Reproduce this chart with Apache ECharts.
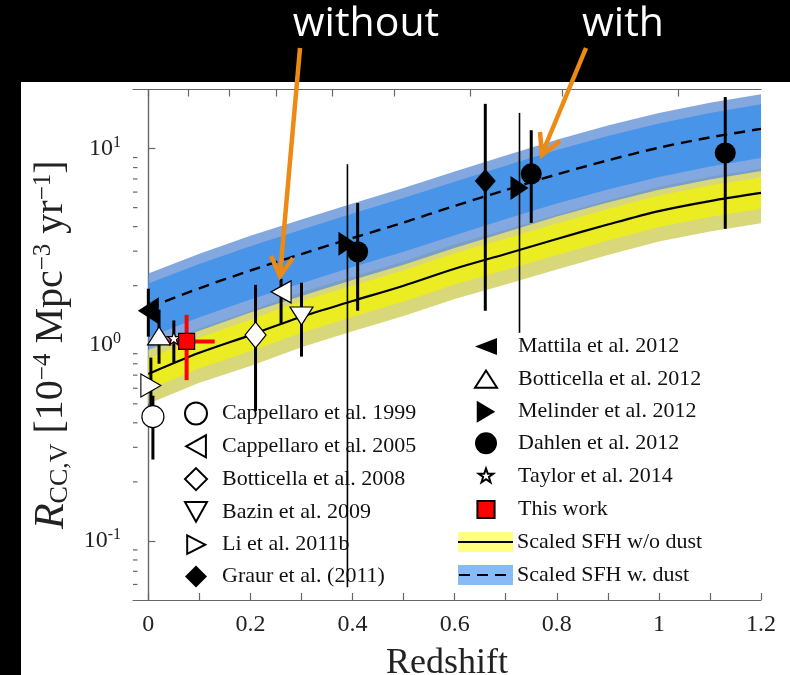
<!DOCTYPE html>
<html><head><meta charset="utf-8">
<script src="https://cdn.jsdelivr.net/npm/echarts@6/dist/echarts.min.js"></script>
<style>html,body{margin:0;padding:0;background:#000;}#c{width:790px;height:675px;}</style>
</head><body><div id="c"></div>
<script>
// ---- model curves (redshift grid) ----
const bandZ = [0, 0.1, 0.2, 0.3, 0.4, 0.5, 0.6, 0.7, 0.8, 0.9, 1.0, 1.1, 1.2];
const sfhNoDust     = [0.71, 0.91, 1.12, 1.39, 1.67, 2.00, 2.44, 2.90, 3.46, 4.10, 4.80, 5.40, 5.94];
const yellowOuterLo = [0.50, 0.64, 0.78, 0.97, 1.17, 1.40, 1.71, 2.03, 2.42, 2.87, 3.36, 3.78, 4.16];
const yellowInnerLo = [0.59, 0.76, 0.93, 1.15, 1.39, 1.66, 2.03, 2.41, 2.87, 3.40, 3.98, 4.48, 4.93];
const yellowInnerHi = [0.85, 1.09, 1.34, 1.67, 2.00, 2.40, 2.93, 3.48, 4.15, 4.92, 5.76, 6.48, 7.13];
const yellowOuterHi = [0.94, 1.21, 1.49, 1.85, 2.22, 2.66, 3.25, 3.86, 4.60, 5.45, 6.38, 7.18, 7.90];
const sfhDust       = [1.54, 1.94, 2.39, 2.90, 3.50, 4.20, 5.10, 6.15, 7.38, 8.71, 10.1, 11.4, 12.6];
const blueOuterLo   = [0.94, 1.18, 1.46, 1.77, 2.14, 2.56, 3.11, 3.75, 4.50, 5.31, 6.16, 6.95, 7.69];
const blueInnerLo   = [1.09, 1.38, 1.70, 2.06, 2.49, 2.98, 3.62, 4.37, 5.24, 6.18, 7.17, 8.09, 8.95];
const blueInnerHi   = [2.05, 2.58, 3.18, 3.86, 4.66, 5.59, 6.78, 8.18, 9.82, 11.6, 13.4, 15.2, 16.8];
const blueOuterHi   = [2.31, 2.91, 3.59, 4.35, 5.25, 6.30, 7.65, 9.23, 11.1, 13.1, 15.2, 17.1, 18.9];

// ---- measurements: [z, rate, lower, upper] ----
const cappellaro1999 = [[0.009, 0.43, 0.26, 0.55]];
const cappellaro2005 = [[0.26, 1.86, 1.28, 2.17]];
const botticella2008 = [[0.21, 1.12, 0.46, 2.02]];
const bazin2009      = [[0.30, 1.40, 0.87, 2.07]];
const li2011b        = [[0.005, 0.62, 0.45, 0.86]];
const graur2011      = [[0.66, 6.84, 1.49, 16.9]];
const mattila2012    = [[0.0, 1.49, 1.10, 1.93]];
const botticella2012 = [[0.021, 1.11, 0.80, 1.51]];
const melinder2012   = [[0.39, 3.27, 0.058, 8.33], [0.727, 6.3, 1.15, 15.2]];
const dahlen2012     = [[0.41, 2.98, 1.49, 5.28], [0.75, 7.43, 4.18, 12.4], [1.13, 9.5, 3.9, 18.3]];
const taylor2014     = [[0.05, 1.08, 0.81, 1.33]];
// [z, rate, lower, upper, zLow, zHigh]
const thisWork       = [[0.075, 1.04, 0.66, 1.42, 0.034, 0.13]];

// ---- axis ticks ----
const xTicks = [0, 0.1, 0.2, 0.3, 0.4, 0.5, 0.6, 0.7, 0.8, 0.9, 1.0, 1.1, 1.2];
const xLabels = [0, 0.2, 0.4, 0.6, 0.8, 1.0, 1.2];
const topTicks = [0, 0.079, 0.159, 0.251, 0.361, 0.482, 0.631, 0.811, 1.038];
const yMinorTicks = [0.06, 0.07, 0.08, 0.09, 0.2, 0.3, 0.4, 0.5, 0.6, 0.7, 0.8, 0.9, 2, 3, 4, 5, 6, 7, 8, 9];

const X_MIN = -0.03, X_MAX = 1.2, Y_MIN = 0.05, Y_MAX = 20;
const SERIF = '"Liberation Serif","DejaVu Serif",serif';
const AX = '#666';

const chart = echarts.init(document.getElementById('c'), null, {renderer: 'canvas'});

const bandLayers = [
  {lo: yellowOuterLo, hi: yellowOuterHi, color: '#d8d87a'},
  {lo: yellowInnerLo, hi: yellowInnerHi, color: '#ecec22'},
  {lo: blueOuterLo,   hi: blueOuterHi,   color: 'rgba(100,145,215,0.8)'},
  {lo: blueInnerLo,   hi: blueInnerHi,   color: '#4894e8'}
];

// error bar list
const errItems = [];
function addErr(arr, lw, color) {
  arr.forEach(p => errItems.push({z: p[0], lo: p[2], hi: p[3], lw: lw, color: color, horiz: false}));
}
addErr(cappellaro1999, 3, '#000');
addErr(cappellaro2005, 3, '#000');
addErr(botticella2008, 3, '#000');
addErr(bazin2009, 3, '#000');
addErr(li2011b, 3, '#000');
addErr(graur2011, 3, '#000');
addErr(mattila2012, 3, '#000');
addErr(botticella2012, 3, '#000');
addErr(melinder2012, 1.6, '#000');
addErr(dahlen2012, 3, '#000');
addErr(taylor2014, 3, '#000');
thisWork.forEach(p => {
  errItems.push({z: p[0], lo: p[2], hi: p[3], lw: 4, color: '#f00', horiz: false});
  errItems.push({z: p[0], r: p[1], zlo: p[4], zhi: p[5], lw: 4, color: '#f00', horiz: true});
});

const xy = arr => arr.map(p => [p[0], p[1]]);

function scatter(name, data, symbol, size, rotate, fill) {
  return {
    type: 'scatter', name: name, data: xy(data), symbol: symbol, symbolSize: size,
    symbolRotate: rotate || 0, z: 6,
    itemStyle: {color: fill, borderColor: '#000', borderWidth: fill === '#000' ? 0 : 1.2, opacity: 1},
    emphasis: {disabled: true}, silent: true
  };
}

const STAR = 'path://M50,2 L61.8,35.5 L97.5,35.5 L69,57 L79.4,92 L50,71 L20.6,92 L31,57 L2.5,35.5 L38.2,35.5 Z';
// legend icons (bounding box fixed by leading move-to corners)
const IC = {
  starL:  'path://M-22,-22 M122,122 M50,2 L61.8,35.5 L97.5,35.5 L69,57 L79.4,92 L50,71 L20.6,92 L31,57 L2.5,35.5 L38.2,35.5 Z',
  square: 'path://M0,0 M100,100 M11,11 L89,11 L89,89 L11,89 Z',
  leftWide: 'path://M0,0 M100,100 M0,50 L100,11 L100,89 Z',
  upWide: 'path://M0,0 M100,100 M50,11 L100,89 L0,89 Z',
  rightTall: 'path://M0,0 M100,100 M8,0 L92,50 L8,100 Z',
  leftTall: 'path://M0,0 M100,100 M5,50 L95,0 L95,100 Z',
  down: 'path://M0,0 M100,100 M0,5 L100,5 L50,95 Z',
  rightSmall: 'path://M0,0 M100,100 M10,8 L92,50 L10,92 Z'
};

const option = {
  backgroundColor: '#000',
  animation: false,
  grid: {left: 133, right: 29, top: 89.5, bottom: 75, outerBoundsMode: 'none', containLabel: false},
  xAxis: [{
    type: 'value', min: X_MIN, max: X_MAX, position: 'bottom',
    axisLine: {show: true, lineStyle: {color: AX, width: 1.2}},
    axisTick: {show: true, inside: true, length: 7, customValues: xTicks, lineStyle: {color: AX, width: 1.2}},
    axisLabel: {show: true, customValues: xLabels, margin: 13, color: '#222', fontFamily: SERIF, fontSize: 24,
      formatter: v => String(Math.round(v * 10) / 10)},
    splitLine: {show: false},
    name: 'Redshift', nameLocation: 'middle', nameGap: 46,
    nameTextStyle: {fontFamily: SERIF, fontSize: 36, color: '#222'}
  }, {
    type: 'value', min: X_MIN, max: X_MAX, position: 'top',
    axisLine: {show: true, lineStyle: {color: AX, width: 1.2}},
    axisTick: {show: true, inside: true, length: 7, customValues: topTicks, lineStyle: {color: AX, width: 1.2}},
    axisLabel: {show: false}, splitLine: {show: false}
  }],
  yAxis: [{
    type: 'log', logBase: 10, min: Y_MIN, max: Y_MAX, position: 'left',
    axisLine: {show: true, lineStyle: {color: AX, width: 1.2}},
    axisTick: {show: true, inside: true, length: 7, lineStyle: {color: AX, width: 1.2}},
    minorTick: {show: false},
    axisLabel: {show: true, showMinLabel: false, showMaxLabel: false, margin: 12,
      formatter: v => '{b|10}{s|' + Math.round(Math.log10(v)) + '}',
      rich: {b: {fontFamily: SERIF, fontSize: 24, color: '#222', lineHeight: 28},
             s: {fontFamily: SERIF, fontSize: 16, color: '#222', verticalAlign: 'top', lineHeight: 16}}},
    splitLine: {show: false},
    name: '{i|R}{sub|CC,V}{n| [10}{sup|−4}{n| Mpc}{sup|−3}{n| yr}{sup|−1}{n|]}',
    nameLocation: 'middle', nameRotate: 90, nameGap: 60,
    nameTextStyle: {rich: {
      i: {fontFamily: SERIF, fontStyle: 'italic', fontSize: 42, color: '#222', lineHeight: 42},
      sub: {fontFamily: SERIF, fontSize: 26, color: '#222', verticalAlign: 'bottom', lineHeight: 24},
      n: {fontFamily: SERIF, fontSize: 40, color: '#222', lineHeight: 42},
      sup: {fontFamily: SERIF, fontSize: 25, color: '#222', verticalAlign: 'top', lineHeight: 24}
    }}
  }, {
    type: 'log', logBase: 10, min: Y_MIN, max: Y_MAX, position: 'right',
    axisLine: {show: true, lineStyle: {color: AX, width: 1.2}},
    axisTick: {show: false}, axisLabel: {show: false}, splitLine: {show: false}
  }],
  legend: [{
    orient: 'vertical', left: 184, top: 401.5, padding: 0, itemWidth: 22, itemHeight: 22, itemGap: 8.8,
    selectedMode: false,
    textStyle: {fontFamily: SERIF, fontSize: 22, lineHeight: 22, color: '#111', padding: [0, 0, 0, 10]},
    data: [{name: 'Cappellaro et al. 1999', icon: 'circle'},
           {name: 'Cappellaro et al. 2005', icon: IC.leftTall},
           {name: 'Botticella et al. 2008', icon: 'diamond'},
           {name: 'Bazin et al. 2009', icon: IC.down},
           {name: 'Li et al. 2011b', icon: IC.rightSmall},
           {name: 'Graur et al. (2011)', icon: 'diamond'}]
  }, {
    orient: 'vertical', left: 474, top: 335.5, padding: 0, itemWidth: 22, itemHeight: 22, itemGap: 9.6,
    selectedMode: false,
    textStyle: {fontFamily: SERIF, fontSize: 22, lineHeight: 22, color: '#111', padding: [0, 0, 0, 16]},
    data: [{name: 'Mattila et al. 2012', icon: IC.leftWide},
           {name: 'Botticella et al. 2012', icon: IC.upWide},
           {name: 'Melinder et al. 2012', icon: IC.rightTall},
           {name: 'Dahlen et al. 2012', icon: 'circle'},
           {name: 'Taylor et al. 2014', icon: IC.starL},
           {name: 'This work', icon: IC.square}]
  }],
  graphic: [
    {type: 'rect', z: -100, silent: true, shape: {x: 21, y: 82, width: 769, height: 593}, style: {fill: '#fff'}},
    // legend entries for the model curves
    {type: 'rect', z: 100, shape: {x: 458, y: 532, width: 55, height: 20}, style: {fill: '#ffff80'}},
    {type: 'line', z: 101, shape: {x1: 458, y1: 542, x2: 513, y2: 542}, style: {stroke: '#000', lineWidth: 2.2}},
    {type: 'text', z: 101, style: {x: 517, y: 542, text: 'Scaled SFH w/o dust', fontFamily: SERIF, fontSize: 22, fill: '#111', verticalAlign: 'middle'}},
    {type: 'rect', z: 100, shape: {x: 458, y: 565, width: 55, height: 20}, style: {fill: '#88bbf5'}},
    {type: 'line', z: 101, shape: {x1: 459, y1: 575, x2: 513, y2: 575}, style: {stroke: '#000', lineWidth: 2.2, lineDash: [11, 7]}},
    {type: 'text', z: 101, style: {x: 517, y: 575, text: 'Scaled SFH w. dust', fontFamily: SERIF, fontSize: 22, fill: '#111', verticalAlign: 'middle'}},
    // slide annotations
    {type: 'text', z: 120, style: {x: 366, y: 24, text: 'without', fontFamily: '"Open Sans",Lato,sans-serif', fontSize: 41, fill: '#fff', align: 'center', verticalAlign: 'middle'}},
    {type: 'text', z: 120, style: {x: 623, y: 24, text: 'with', fontFamily: '"Open Sans",Lato,sans-serif', fontSize: 41, fill: '#fff', align: 'center', verticalAlign: 'middle'}},
    {type: 'polyline', z: 120, shape: {points: [[300, 48], [280, 275]]}, style: {stroke: '#ec8a14', lineWidth: 4.5, fill: null}},
    {type: 'polyline', z: 120, shape: {points: [[271, 256], [280, 276], [293, 258]]}, style: {stroke: '#ec8a14', lineWidth: 4.5, fill: null, lineJoin: 'miter'}},
    {type: 'polyline', z: 120, shape: {points: [[586, 48], [542, 154]]}, style: {stroke: '#ec8a14', lineWidth: 4.5, fill: null}},
    {type: 'polyline', z: 120, shape: {points: [[540, 132], [542, 155], [560, 141]]}, style: {stroke: '#ec8a14', lineWidth: 4.5, fill: null, lineJoin: 'miter'}}
  ],
  series: [
    {
      type: 'custom', name: 'bands', z: 1, silent: true, clip: false,
      data: bandLayers.map((b, i) => [i]),
      renderItem: function (params, api) {
        const b = bandLayers[params.dataIndex];
        const pts = [];
        bandZ.forEach((z, k) => pts.push(api.coord([z, b.hi[k]])));
        for (let k = bandZ.length - 1; k >= 0; k--) pts.push(api.coord([bandZ[k], b.lo[k]]));
        return {type: 'polygon', shape: {points: pts}, style: {fill: b.color, stroke: null}};
      }
    },
    {
      type: 'line', name: 'Scaled SFH w/o dust', z: 3, silent: true, showSymbol: false, symbol: 'none',
      data: bandZ.map((z, k) => [z, sfhNoDust[k]]), smooth: 0.3,
      lineStyle: {color: '#000', width: 2.2}
    },
    {
      type: 'line', name: 'Scaled SFH w. dust', z: 3, silent: true, showSymbol: false, symbol: 'none',
      data: bandZ.map((z, k) => [z, sfhDust[k]]), smooth: 0.3,
      lineStyle: {color: '#000', width: 2.4, type: [11, 7]}
    },
    {
      type: 'custom', name: 'minorTicks', z: 4, silent: true, clip: false,
      data: yMinorTicks.map(v => [X_MIN, v]),
      renderItem: function (params, api) {
        const p = api.coord([api.value(0), api.value(1)]);
        return {type: 'line', shape: {x1: p[0], y1: p[1], x2: p[0] + 4.5, y2: p[1]}, style: {stroke: AX, lineWidth: 1.2}};
      }
    },
    {
      type: 'custom', name: 'errorbars', z: 5, silent: true, clip: false,
      data: errItems.map((e, i) => [i]),
      renderItem: function (params, api) {
        const e = errItems[params.dataIndex];
        let a, b;
        if (e.horiz) { a = api.coord([e.zlo, e.r]); b = api.coord([e.zhi, e.r]); }
        else { a = api.coord([e.z, e.lo]); b = api.coord([e.z, e.hi]); }
        return {type: 'line', shape: {x1: a[0], y1: a[1], x2: b[0], y2: b[1]}, style: {stroke: e.color, lineWidth: e.lw}};
      }
    },
    scatter('Cappellaro et al. 1999', cappellaro1999, 'circle', 22, 0, '#fff'),
    scatter('Cappellaro et al. 2005', cappellaro2005, 'triangle', [22, 20], 90, '#fff'),
    scatter('Botticella et al. 2008', botticella2008, 'diamond', [21, 26], 0, '#fff'),
    scatter('Bazin et al. 2009', bazin2009, 'triangle', [23, 18], 180, '#fff'),
    scatter('Li et al. 2011b', li2011b, 'triangle', [23, 20], -90, '#fff'),
    scatter('Graur et al. (2011)', graur2011, 'diamond', [21, 24], 0, '#000'),
    scatter('Mattila et al. 2012', mattila2012, 'triangle', [27, 21], 90, '#000'),
    scatter('Botticella et al. 2012', botticella2012, 'triangle', [23, 18], 0, '#fff'),
    scatter('Melinder et al. 2012', melinder2012, 'triangle', [24, 18], -90, '#000'),
    scatter('Dahlen et al. 2012', dahlen2012, 'circle', 21, 0, '#000'),
    scatter('Taylor et al. 2014', taylor2014, STAR, 13, 0, '#fff'),
    scatter('This work', thisWork, 'rect', 16, 0, '#f00')
  ]
};
chart.setOption(option);
</script></body></html>
